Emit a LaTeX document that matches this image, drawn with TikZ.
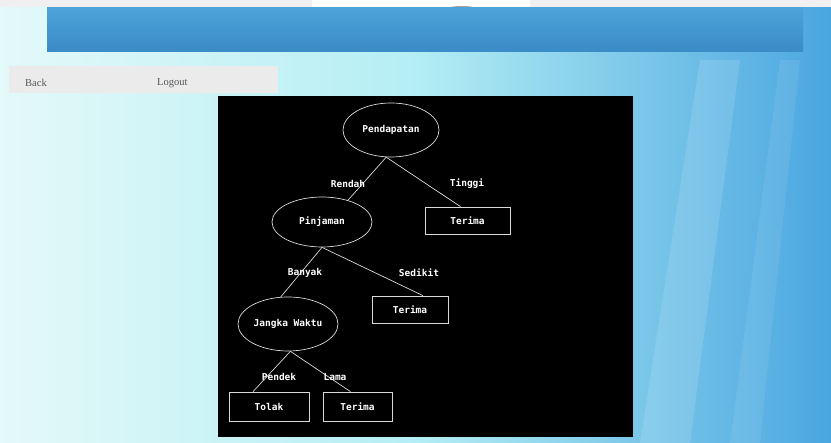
\documentclass[tikz,border=0pt]{standalone}
\usepackage{fontspec}
\setmainfont{Liberation Serif}
\newfontfamily\pixfont{DejaVu Sans Mono}
\usetikzlibrary{shapes.geometric,calc}
\definecolor{bgleft}{HTML}{E4F9F9}
\definecolor{bgmid}{HTML}{B4EEF4}
\definecolor{bgright}{HTML}{4AA6E0}
\definecolor{bannertop}{HTML}{4DA3DA}
\definecolor{bannerbot}{HTML}{3A8BC6}
\definecolor{navgray}{HTML}{ECEBEB}
\definecolor{navtext}{HTML}{555555}
\tikzset{
  treeline/.style={draw=white!85!black, line width=0.7pt},
  ellnode/.style={ellipse, draw=white!85!black, line width=0.7pt, inner sep=0pt, text=white, font=\pixfont\bfseries\fontsize{9.5}{10}\selectfont},
  leafbox/.style={rectangle, draw=white!85!black, line width=0.7pt, inner sep=0pt, text=white, font=\pixfont\bfseries\fontsize{9.5}{10}\selectfont},
  edgelabel/.style={inner sep=0pt, text=white, font=\pixfont\bfseries\fontsize{9.5}{10}\selectfont},
  navlabel/.style={inner sep=0pt, text=navtext, font=\fontsize{10.5}{12}\selectfont, anchor=west}
}
\begin{document}
\begin{tikzpicture}[x=1pt,y=-1pt]
\useasboundingbox (0,0) rectangle (831,443);
% background
\shade[left color=bgleft, right color=bgright, middle color=bgmid, shading angle=90] (0,0) rectangle (831,443);
\fill[white, opacity=0.12] (640,443) -- (700,60) -- (740,60) -- (690,443) -- cycle;
\fill[white, opacity=0.08] (730,443) -- (780,60) -- (800,60) -- (760,443) -- cycle;
% top strip
\fill[gray!12] (0,0) rectangle (831,7);
\fill[white] (312,0) rectangle (530,14);
\fill[gray!70] (462,9) ellipse (15 and 3);
% banner
\shade[top color=bannertop, bottom color=bannerbot] (47,8) rectangle (803,52);
% nav bar
\fill[navgray] (9,66) rectangle (278,93);
\node[navlabel] (back) at (25,83) {Back};
\node[navlabel] (logout) at (157,83) {Logout};
% black panel
\fill[black] (218,96) rectangle (633,437);
% tree nodes
\node[ellnode, minimum width=96, minimum height=54] (pend) at (391,130) {Pendapatan};
\node[ellnode, minimum width=100, minimum height=50] (pinj) at (322,222) {Pinjaman};
\node[ellnode, minimum width=100, minimum height=54] (jw) at (288,324) {Jangka Waktu};
\node[leafbox, minimum width=85, minimum height=27] (t1) at (467.5,220.5) {Terima};
\node[leafbox, minimum width=76, minimum height=27] (t2) at (410,309.5) {Terima};
\node[leafbox, minimum width=80, minimum height=29] (tolak) at (269,406.5) {Tolak};
\node[leafbox, minimum width=69, minimum height=29] (t3) at (357.5,406.5) {Terima};
% connectors
\draw[treeline] (pend.-100) -- (pinj.40);
\draw[treeline] (pend.-100) -- ([xshift=-7pt]t1.north);
\draw[treeline] (pinj.south) -- (jw.105);
\draw[treeline] (pinj.south) -- ([xshift=13pt]t2.north);
\draw[treeline] (jw.-85) -- ([xshift=-16pt]tolak.north);
\draw[treeline] (jw.-85) -- ([xshift=-7pt]t3.north);
% labels
\node[edgelabel] (lrendah) at (348,184) {Rendah};
\node[edgelabel] (ltinggi) at (467,184) {Tinggi};
\node[edgelabel] (lbanyak) at (305,273) {Banyak};
\node[edgelabel] (lsedikit) at (419,273) {Sedikit};
\node[edgelabel] (lpendek) at (279,377) {Pendek};
\node[edgelabel] (llama) at (335,377) {Lama};
\end{tikzpicture}
\end{document}
